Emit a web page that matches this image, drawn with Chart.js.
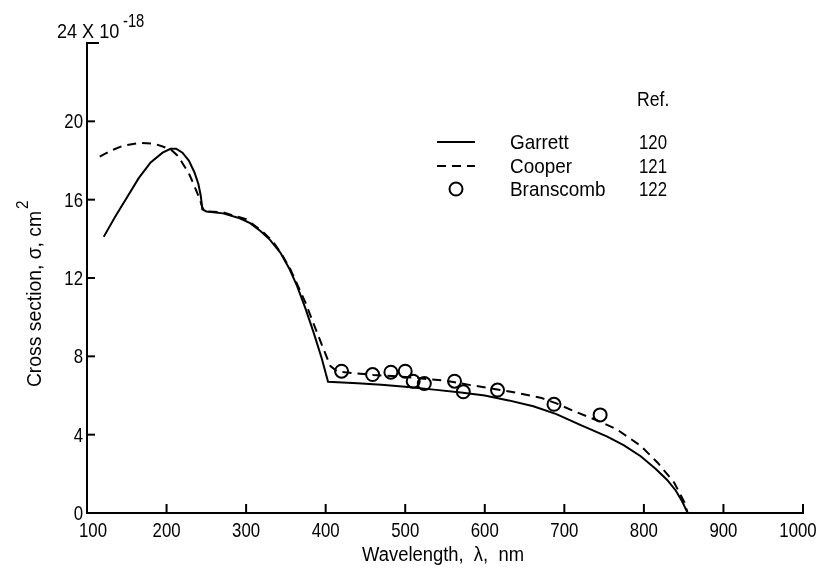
<!DOCTYPE html>
<html lang="en">
<head>
    <meta charset="UTF-8">
    <title>Cross section</title>
    <script src="https://cdn.jsdelivr.net/npm/chart.js"></script>
    <style>
        body { margin: 0; background: #fff; }
        canvas { display: block; }
    </style>
</head>
<body>
    <canvas id="sigmaChart" width="820" height="569"></canvas>
<script>
    // data (sigma in units of 1e-18 cm^2)
    var garrettLambda = [121, 135, 150, 165, 180, 195, 205, 212, 220, 228, 235, 240, 243, 245, 250, 271, 292, 305, 318, 330, 343, 354, 364, 375, 385, 395, 403, 440, 470, 500, 536, 570, 600, 630, 661, 690, 720, 754, 775, 796, 815, 829, 840, 848, 855]
    var garrettSigma = [14.1, 15.1, 16.1, 17.1, 17.9, 18.4, 18.6, 18.6, 18.4, 18.0, 17.4, 16.8, 16.2, 15.5, 15.4, 15.3, 15.05, 14.8, 14.4, 13.95, 13.3, 12.5, 11.6, 10.4, 9.2, 7.9, 6.7, 6.62, 6.55, 6.45, 6.3, 6.15, 6.0, 5.75, 5.45, 5.05, 4.5, 3.9, 3.45, 2.9, 2.25, 1.7, 1.15, 0.6, 0]

    var cooperLambda = [116, 130, 145, 167, 185, 196, 207, 215, 221, 228, 234, 239, 242, 245, 248, 271, 300, 320, 333, 345, 355, 364, 375, 385, 396, 406, 414, 420, 460, 500, 552, 582, 610, 640, 670, 690, 712, 740, 766, 796, 817, 838, 851, 855]
    var cooperSigma = [18.2, 18.5, 18.75, 18.9, 18.85, 18.7, 18.5, 18.2, 17.8, 17.35, 16.8, 16.3, 16.0, 15.6, 15.4, 15.35, 15.0, 14.4, 13.9, 13.2, 12.5, 11.7, 10.7, 9.65, 8.5, 7.5, 7.25, 7.2, 7.05, 6.95, 6.75, 6.53, 6.35, 6.14, 5.89, 5.6, 5.2, 4.75, 4.27, 3.43, 2.58, 1.56, 0.54, 0]

    var branscombLambda = [420, 459, 482, 500, 510, 524, 562, 573, 616, 687, 745]
    var branscombSigma = [7.24, 7.07, 7.19, 7.24, 6.73, 6.61, 6.73, 6.19, 6.28, 5.55, 5.01]

    var xTicks = [100, 200, 300, 400, 500, 600, 700, 800, 900, 1000]
    var yTicks = [0, 4, 8, 12, 16, 20, 24]

    var legendNames = ['Garrett', 'Cooper', 'Branscomb']
    var legendRefs = ['120', '121', '122']

    var fontFam = "'Liberation Sans', Arial, sans-serif"

    function pares(xs, ys) {
        var out = []
        for (var i = 0; i < xs.length; i++) {
            out.push({ x: xs[i], y: ys[i] })
        }
        return out
    }

    // condensed text: squeeze horizontally around the anchor
    function texto(c, s, x, y, size, align, sx) {
        c.save()
        c.font = size + 'px ' + fontFam
        c.textAlign = align || 'left'
        c.translate(x, y)
        c.scale(sx || 0.8, 1)
        c.fillText(s, 0, 0)
        c.restore()
    }

    // inward ticks, tick labels, top label, titles and the legend table
    var extras = {
        id: 'extras',
        afterDraw: function (chart) {
            var c = chart.ctx
            var xs = chart.scales.x
            var ys = chart.scales.y
            var area = chart.chartArea
            c.save()
            c.strokeStyle = '#000'
            c.fillStyle = '#000'
            c.lineWidth = 2
            c.textBaseline = 'alphabetic'
            xTicks.forEach(function (v) {
                var px = xs.getPixelForValue(v)
                if (v !== 100) {
                    c.beginPath()
                    c.moveTo(px, area.bottom)
                    c.lineTo(px, area.bottom - 9)
                    c.stroke()
                }
                var lx = px
                if (v === 100) lx = px + 6
                if (v === 1000) lx = px - 5
                texto(c, String(v), lx, area.bottom + 24, 21, 'center', 0.8)
            })
            yTicks.forEach(function (v) {
                var py = ys.getPixelForValue(v)
                if (v !== 0) {
                    c.beginPath()
                    c.moveTo(area.left, py)
                    c.lineTo(area.left + (v === 24 ? 12 : 8), py)
                    c.stroke()
                }
                if (v !== 24) texto(c, String(v), area.left - 4, py + 7, 21, 'right', 0.8)
            })

            texto(c, '24 X 10', 57, 38, 21, 'left', 0.86)
            texto(c, '-18', 123, 27, 18, 'left', 0.82)

            // y axis title
            c.save()
            c.translate(41, 295)
            c.rotate(-Math.PI / 2)
            c.font = '21px ' + fontFam
            var t = 'Cross section, \u03c3, cm'
            var w = c.measureText(t).width * 0.92
            texto(c, t, -w / 2 - 4, 0, 21, 'left', 0.92)
            texto(c, '2', w / 2 - 2, -13, 17, 'left', 0.9)
            c.restore()

            // x axis title
            texto(c, 'Wavelength,  \u03bb,  nm', 443, 561, 20, 'center', 0.92)

            // legend table
            texto(c, 'Ref.', 637, 106, 20, 'left', 0.88)
            var rowsY = [142, 166, 189]
            for (var i = 0; i < 3; i++) {
                var ry = rowsY[i]
                texto(c, legendNames[i], 510, ry + 7, 21, 'left', 0.9)
                texto(c, legendRefs[i], 639, ry + 7, 21, 'left', 0.8)
                c.lineWidth = 1.8
                if (i === 0) {
                    c.setLineDash([])
                    c.beginPath(); c.moveTo(437, ry); c.lineTo(475, ry); c.stroke()
                } else if (i === 1) {
                    c.setLineDash([9, 6])
                    c.beginPath(); c.moveTo(437, ry); c.lineTo(475, ry); c.stroke()
                    c.setLineDash([])
                } else {
                    c.lineWidth = 2
                    c.beginPath(); c.arc(456, ry, 6.5, 0, Math.PI * 2); c.stroke()
                }
            }
            c.restore()
        }
    }

    const ctx = document.getElementById('sigmaChart')
    new Chart(ctx, {
        type: 'scatter',
        data: {
            datasets: [{
                label: 'Garrett',
                data: pares(garrettLambda, garrettSigma),
                showLine: true,
                borderColor: '#000',
                borderWidth: 2,
                pointRadius: 0,
                tension: 0
            }, {
                label: 'Cooper',
                data: pares(cooperLambda, cooperSigma),
                showLine: true,
                borderColor: '#000',
                borderWidth: 2,
                borderDash: [9, 6],
                pointRadius: 0,
                tension: 0
            }, {
                label: 'Branscomb',
                data: pares(branscombLambda, branscombSigma),
                showLine: false,
                pointRadius: 6.5,
                pointBorderWidth: 2,
                pointBorderColor: '#000',
                pointBackgroundColor: 'rgba(0,0,0,0)'
            }]
        },
        options: {
            responsive: false,
            animation: false,
            devicePixelRatio: 1,
            layout: { padding: { top: 43, right: 17, left: 0, bottom: 0 } },
            scales: {
                x: {
                    type: 'linear',
                    min: 100,
                    max: 1000,
                    afterFit: function (s) { s.height = 56 },
                    afterBuildTicks: function (s) { s.ticks = xTicks.map(function (v) { return { value: v } }) },
                    grid: { display: false, drawTicks: false },
                    border: { display: true, color: '#000', width: 2 },
                    ticks: { display: false }
                },
                y: {
                    min: 0,
                    max: 24,
                    afterFit: function (s) { s.width = 87 },
                    afterBuildTicks: function (s) { s.ticks = yTicks.map(function (v) { return { value: v } }) },
                    grid: { display: false, drawTicks: false },
                    border: { display: true, color: '#000', width: 2 },
                    ticks: { display: false }
                }
            },
            plugins: {
                legend: { display: false },
                tooltip: { enabled: false }
            }
        },
        plugins: [extras]
    });
</script>
</body>
</html>
